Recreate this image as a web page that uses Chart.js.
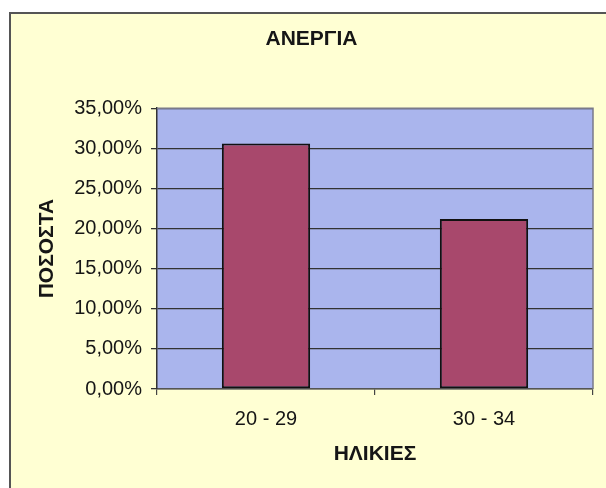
<!DOCTYPE html>
<html>
<head>
<meta charset="utf-8">
<script src="https://cdn.jsdelivr.net/npm/chart.js@4.4.1/dist/chart.umd.min.js"></script>
<style>
  html, body { margin: 0; padding: 0; background: #ffffff; }
  #wrap { width: 606px; height: 488px; position: relative; }
</style>
</head>
<body>
<div id="wrap"><canvas id="c" width="606" height="488"></canvas></div>
<script>
const categories = ["20 - 29", "30 - 34"];
const unemploymentPct = [30.6, 21.2];
const yTickMin = 0;
const yTickMax = 35;
const yTickStep = 5;
const chartTitle = "ΑΝΕΡΓΙΑ";
const xAxisTitle = "ΗΛΙΚΙΕΣ";
const yAxisTitle = "ΠΟΣΟΣΤΑ";

const CREAM = "#ffffd3";
const PLOT_BG = "#aab5ed";
const BAR = "#a8486c";
const TXT = "#161616";
const FONT = "'Liberation Sans', Arial, sans-serif";

const bgPlugin = {
  id: "bgPlugin",
  beforeDraw(chart) {
    const ctx = chart.ctx;
    const a = chart.chartArea;
    ctx.save();
    ctx.fillStyle = "#ffffff";
    ctx.fillRect(0, 0, chart.width, chart.height);
    ctx.fillStyle = CREAM;
    ctx.fillRect(10, 13, chart.width - 10, chart.height - 13);
    ctx.strokeStyle = "#555555";
    ctx.lineWidth = 2;
    ctx.beginPath();
    ctx.moveTo(10, chart.height);
    ctx.lineTo(10, 13);
    ctx.lineTo(chart.width, 13);
    ctx.stroke();
    ctx.fillStyle = PLOT_BG;
    ctx.fillRect(a.left, a.top, a.right - a.left, a.bottom - a.top);
    ctx.restore();
  },
  afterDatasetsDraw(chart) {
    const ctx = chart.ctx;
    const a = chart.chartArea;
    ctx.save();
    ctx.strokeStyle = "#7a7a8a";
    ctx.lineWidth = 1.5;
    ctx.beginPath();
    ctx.moveTo(a.left, a.top);
    ctx.lineTo(a.right, a.top);
    ctx.lineTo(a.right, a.bottom);
    ctx.stroke();
    ctx.restore();
  }
};

new Chart(document.getElementById("c"), {
  type: "bar",
  data: {
    labels: categories,
    datasets: [{
      data: unemploymentPct,
      backgroundColor: BAR,
      borderColor: "#111111",
      borderWidth: 2,
      borderSkipped: false,
      categoryPercentage: 1.0,
      barPercentage: 0.405
    }]
  },
  options: {
    responsive: false,
    animation: false,
    devicePixelRatio: 1,
    layout: { padding: { left: 30, right: 13, top: 0, bottom: 0 } },
    plugins: {
      legend: { display: false },
      tooltip: { enabled: false },
      title: {
        display: true,
        text: chartTitle,
        color: TXT,
        font: { family: FONT, size: 21, weight: "bold", lineHeight: 1.2 },
        padding: { top: 27, bottom: 56 }
      }
    },
    scales: {
      x: {
        afterFit(s) { s.height = 99; },
        grid: {
          display: true,
          drawOnChartArea: false,
          drawTicks: true,
          tickLength: 6,
          color: "#444444",
          lineWidth: 1.2
        },
        border: { display: true, color: "#555555", width: 1.5 },
        ticks: {
          color: TXT,
          padding: 12,
          font: { family: FONT, size: 20 }
        },
        title: {
          display: true,
          text: xAxisTitle,
          color: TXT,
          font: { family: FONT, size: 21, weight: "bold", lineHeight: 1.2 },
          padding: { top: 0, bottom: 21 }
        }
      },
      y: {
        min: yTickMin,
        max: yTickMax,
        afterFit(s) { s.width = 127; },
        grid: {
          color: "#333333",
          lineWidth: 1.3,
          drawTicks: true,
          tickLength: 6
        },
        border: { display: true, color: "#333333", width: 1.5 },
        ticks: {
          stepSize: yTickStep,
          color: TXT,
          padding: 9,
          font: { family: FONT, size: 20 },
          callback: (v) => v.toFixed(2).replace(".", ",") + "%"
        },
        title: {
          display: true,
          text: yAxisTitle,
          color: TXT,
          font: { family: FONT, size: 21, weight: "bold", lineHeight: 1.2 },
          padding: { top: 5, bottom: 0 }
        }
      }
    }
  },
  plugins: [bgPlugin]
});
</script>
</body>
</html>
